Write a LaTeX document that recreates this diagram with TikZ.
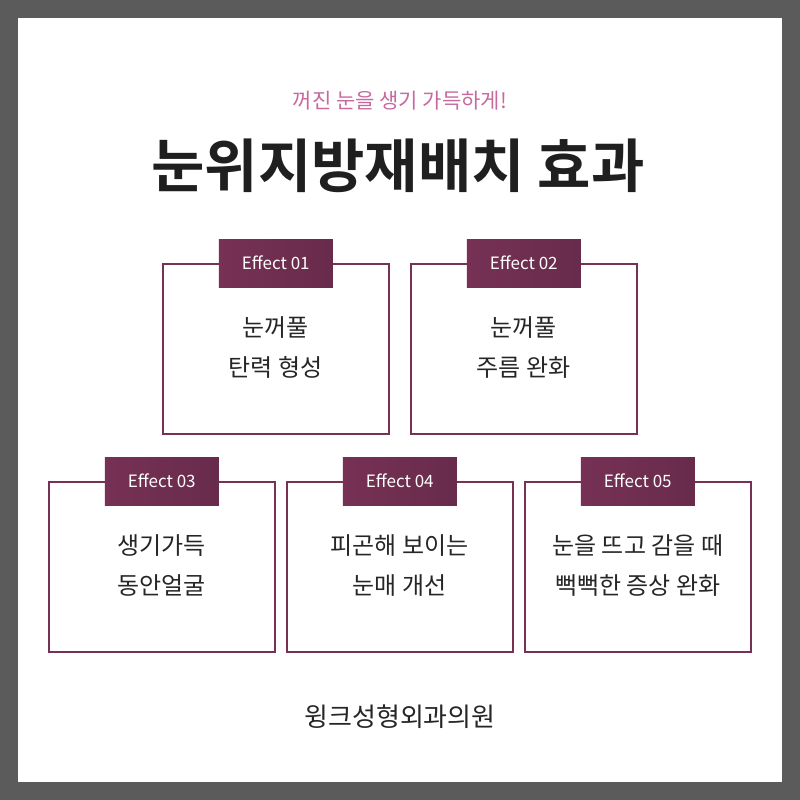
\documentclass[tikz,border=0pt]{standalone}
\usepackage{fontspec}
\newfontfamily\kr{Noto Sans CJK KR}
\newfontfamily\krb{Noto Sans CJK KR Bold}
\definecolor{plum}{HTML}{763155}
\definecolor{plumdark}{HTML}{682B4B}
\definecolor{pinktext}{HTML}{C8689E}
\definecolor{frame}{HTML}{5B5B5B}
\tikzset{
  effbox/.style={draw=plum, line width=1.5pt, minimum width=226pt, minimum height=170pt, anchor=north west, inner sep=0pt},
  efftab/.style={left color=plum, right color=plumdark, minimum width=114pt, minimum height=48pt, inner sep=0pt, text=white, font=\kr\fontsize{17}{19}\selectfont},
  efftext/.style={align=center, font=\kr\fontsize{24}{40}\selectfont, text=black!85}
}
\begin{document}
\begin{tikzpicture}[x=1pt,y=-1pt]
\fill[frame] (0,0) rectangle (800,800);
\fill[white] (18,18) rectangle (782,782);
\node[font=\kr\fontsize{21}{24}\selectfont, text=pinktext] (sub) at (400,101) {꺼진 눈을 생기 가득하게!};
\node[font=\krb\fontsize{58}{62}\selectfont, text=black!88] (title) at (398,166) {눈위지방재배치 효과};
% boxes
\node[effbox] (b1) at (162,263) {};
\node[effbox] (b2) at (410,263) {};
\node[effbox] (b3) at (48,481) {};
\node[effbox] (b4) at (286,481) {};
\node[effbox] (b5) at (524,481) {};
\node[efftab] (t1) at (b1.north) {Effect 01};
\node[efftab] (t2) at (b2.north) {Effect 02};
\node[efftab] (t3) at (b3.north) {Effect 03};
\node[efftab] (t4) at (b4.north) {Effect 04};
\node[efftab] (t5) at (b5.north) {Effect 05};
\node[efftext] (x1) at ([yshift=1]b1.center) {눈꺼풀\\탄력 형성};
\node[efftext] (x2) at ([yshift=1]b2.center) {눈꺼풀\\주름 완화};
\node[efftext] (x3) at ([yshift=1]b3.center) {생기가득\\동안얼굴};
\node[efftext] (x4) at ([yshift=1]b4.center) {피곤해 보이는\\눈매 개선};
\node[efftext] (x5) at ([yshift=1]b5.center) {눈을 뜨고 감을 때\\뻑뻑한 증상 완화};
\node[font=\kr\fontsize{26}{30}\selectfont, text=black!85] (foot) at (400,717) {윙크성형외과의원};
\end{tikzpicture}
\end{document}
